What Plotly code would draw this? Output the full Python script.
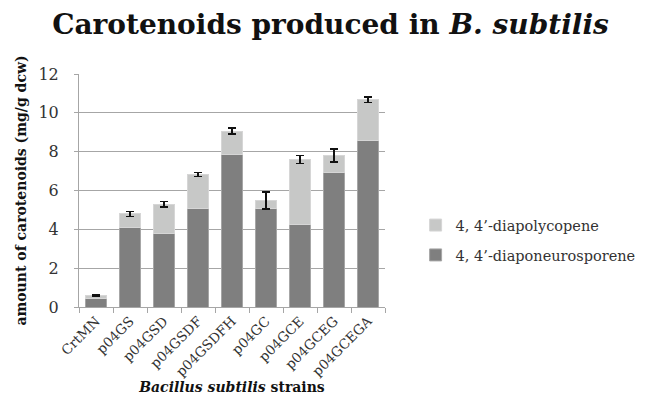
import plotly.graph_objects as go

strains = ["CrtMN", "p04GS", "p04GSD", "p04GSDF", "p04GSDFH", "p04GC", "p04GCE", "p04GCEG", "p04GCEGA"]
diaponeurosporene = [0.43, 4.10, 3.76, 5.05, 7.86, 5.05, 4.27, 6.95, 8.55]
diapolycopene = [0.15, 0.69, 1.53, 1.78, 1.20, 0.44, 3.33, 0.86, 2.12]
total_error = [0.03, 0.12, 0.14, 0.10, 0.16, 0.43, 0.20, 0.34, 0.14]
y_ticks = [0, 2, 4, 6, 8, 10, 12]

serif = "DejaVu Serif"

fig = go.Figure()
fig.add_trace(go.Bar(
    x=strains, y=diaponeurosporene, name="4, 4\u2019-diaponeurosporene",
    legendgroup="a", legendrank=2,
    marker=dict(color="#7f7f7f", line=dict(color="#a6a6a6", width=1)),
    width=0.63,
))
fig.add_trace(go.Bar(
    x=strains, y=diapolycopene, name="4, 4\u2019-diapolycopene",
    legendgroup="b", legendrank=1,
    marker=dict(color="#c7c8c7", line=dict(color="#d6d6d6", width=1)),
    width=0.63,
    error_y=dict(type="data", array=total_error, visible=True, color="#111111", thickness=1.5, width=4),
))

fig.update_layout(
    width=645, height=409,
    barmode="stack",
    plot_bgcolor="white", paper_bgcolor="white",
    margin=dict(l=71, r=230, t=66, b=110),
    title=dict(text="<b>Carotenoids produced in <i>B. subtilis</i></b>",
               font=dict(family=serif, size=28, color="#111111"),
               x=0.5, xanchor="center", xref="container", y=0.985, yanchor="top"),
    font=dict(family=serif, color="#333333"),
    legend=dict(x=1.10, y=0.42, xanchor="left", yanchor="top",
                font=dict(family=serif, size=14.5, color="#333333"),
                traceorder="grouped", tracegroupgap=8, itemwidth=30),
    showlegend=True,
)
fig.update_yaxes(
    range=[0, 12], tickvals=y_ticks, showgrid=True, gridcolor="#a6a6a6", gridwidth=1,
    showline=True, linecolor="#a6a6a6", ticks="outside", ticklen=4, tickcolor="#a6a6a6",
    tickfont=dict(family=serif, size=16, color="#333333"), ticklabelstandoff=12,
    title=dict(text="<b>amount of carotenoids (mg/g dcw)</b>", font=dict(family=serif, size=14, color="#111111"), standoff=8),
    zeroline=False,
)
fig.update_xaxes(
    showline=True, linecolor="#a6a6a6", ticks="outside", ticklen=5, tickcolor="#a6a6a6",
    tickson="boundaries", tickangle=-45,
    tickfont=dict(family=serif, size=13.5, color="#333333"),
    title=dict(text="<b><i>Bacillus subtilis</i> strains</b>", font=dict(family=serif, size=14, color="#111111"), standoff=0),
)

fig.write_html("out.html")
